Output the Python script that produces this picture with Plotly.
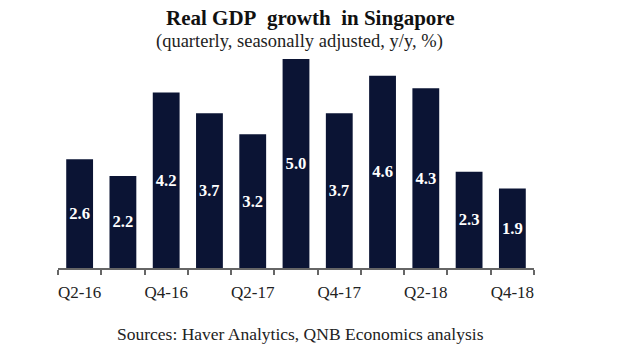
import plotly.graph_objects as go

quarters = ["Q2-16", "Q3-16", "Q4-16", "Q1-17", "Q2-17", "Q3-17",
            "Q4-17", "Q1-18", "Q2-18", "Q3-18", "Q4-18"]
values = [2.6, 2.2, 4.2, 3.7, 3.2, 5.0, 3.7, 4.6, 4.3, 2.3, 1.9]
tick_labels = ["Q2-16", "Q4-16", "Q2-17", "Q4-17", "Q2-18", "Q4-18"]
text_labels = [f"{v:.1f}" for v in values]

serif = "Liberation Serif, Times New Roman, serif"
n = len(values)
xs = list(range(n))

W, H = 620, 355
L, R, T, B = 58, 86, 59, 87
# plot area: x 58..534, y 59..268

fig = go.Figure()
fig.add_trace(go.Bar(
    x=xs, y=values, text=text_labels, textposition="inside",
    insidetextanchor="middle", textangle=0,
    textfont=dict(family=serif, size=17, color="white", weight="bold"),
    marker=dict(color="#0b1434", line=dict(width=0)),
    width=0.62, hoverinfo="skip", cliponaxis=False,
))
fig.add_trace(go.Scatter(x=[0, n - 1], y=[0, 0], xaxis="x2", mode="markers",
                         marker=dict(opacity=0), hoverinfo="skip", showlegend=False))

fig.update_layout(
    width=W, height=H,
    margin=dict(l=L, r=R, t=T, b=B, autoexpand=False),
    paper_bgcolor="white", plot_bgcolor="white",
    showlegend=False,
    xaxis=dict(
        range=[-0.5, n - 0.5],
        tickmode="array",
        tickvals=[i - 0.5 for i in range(n + 1)],
        ticktext=[""] * (n + 1),
        ticks="outside", ticklen=5, tickwidth=1.5, tickcolor="#666666",
        showgrid=False, zeroline=False, automargin=False,
        showline=True, linecolor="#666666", linewidth=1.5,
    ),
    xaxis2=dict(
        overlaying="x", anchor="y", side="bottom",
        range=[-0.5, n - 0.5],
        tickmode="array",
        tickvals=[xs[i] for i in range(0, n, 2)],
        ticktext=tick_labels,
        ticks="outside", ticklen=9, tickcolor="rgba(0,0,0,0)",
        showgrid=False, zeroline=False, showline=False, automargin=False,
        tickfont=dict(family=serif, size=17, color="#222222"),
    ),
    yaxis=dict(range=[0, 5.0], visible=False, fixedrange=True, automargin=False),
)

def py(ypix):
    top, bottom = T, H - B
    return (bottom - ypix) / (bottom - top)

def px(xpix):
    return (xpix - L) / (W - L - R)

fig.add_annotation(text="<b>Real GDP\u00a0 growth\u00a0 in Singapore</b>", x=px(310), y=py(18),
                   xref="paper", yref="paper", showarrow=False, yanchor="middle",
                   font=dict(family=serif, size=21, color="#111111"))
fig.add_annotation(text="(quarterly, seasonally adjusted, y/y, %)", x=px(299), y=py(42),
                   xref="paper", yref="paper", showarrow=False, yanchor="middle",
                   font=dict(family=serif, size=18.5, color="#222222"))
fig.add_annotation(text="Sources: Haver Analytics, QNB Economics analysis", x=px(300), y=py(334),
                   xref="paper", yref="paper", showarrow=False, yanchor="middle",
                   font=dict(family=serif, size=17.5, color="#222222"))

fig.write_html("out.html", config={"displayModeBar": False},
               post_script="document.body.style.margin='0';document.body.style.overflow='hidden';")
